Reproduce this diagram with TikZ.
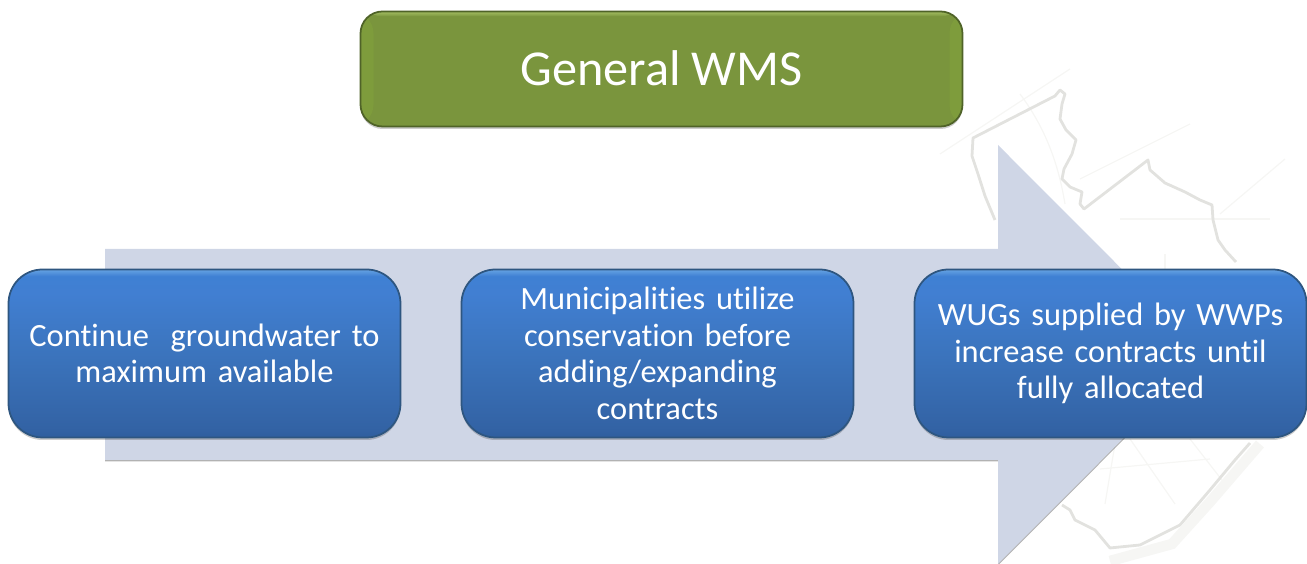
\documentclass[tikz,border=0pt]{standalone}
\usepackage{fontspec}
\setmainfont{Carlito}[Ligatures=NoCommon]
\usetikzlibrary{shadows}
\definecolor{arrowfill}{HTML}{CFD6E6}
\definecolor{mapline}{HTML}{E2E2DF}
\definecolor{mapfaint}{HTML}{F6F6F4}
\definecolor{blueedge}{HTML}{2E5680}
\definecolor{greenedge}{HTML}{4F6328}
\definecolor{greenmain}{HTML}{7A953D}
\definecolor{greenside}{HTML}{7E9C3C}
\definecolor{greentop}{HTML}{A3BD62}
\definecolor{bluea}{HTML}{2F5E9E}
\definecolor{blueb}{HTML}{3363A5}
\definecolor{bluec}{HTML}{3B74BD}
\definecolor{blued}{HTML}{417FD2}
\definecolor{bluee}{HTML}{3F80D3}
\definecolor{bluef}{HTML}{66A3E3}
\pgfdeclareverticalshading{bluebevel}{100bp}{
  color(0bp)=(bluea);
  color(25bp)=(bluea);
  color(28bp)=(blueb);
  color(50bp)=(bluec);
  color(68bp)=(blued);
  color(73bp)=(bluee);
  color(75bp)=(bluef);
  color(100bp)=(bluef)}
\tikzset{
  softshadow/.style={drop shadow={shadow xshift=0cm,shadow yshift=-0.025cm,
    fill=black,opacity=0.2}},
  bluebox/.style={draw=blueedge,line width=0.5pt,rounded corners=0.34cm,
    shading=bluebevel,softshadow,text=white,align=center,
    minimum width=3.92cm,minimum height=1.68cm,text width=3.8cm,
    inner sep=0pt,font=\fontsize{9.23}{10.4}\selectfont},
  greenbox/.style={draw=greenedge,line width=0.5pt,rounded corners=0.22cm,
    fill=greenmain,softshadow,text=white,align=center,
    minimum width=6.02cm,minimum height=1.15cm,
    inner sep=0pt,font=\fontsize{14.3}{16}\selectfont,
    path picture={
      \fill[greenside] (path picture bounding box.south west)
        rectangle ++(0.13,1.15);
      \fill[greenside] (path picture bounding box.south east)
        rectangle ++(-0.13,1.15);
      \shade[top color=greentop,bottom color=greenmain]
        (path picture bounding box.north west) rectangle ++(6.02,-0.05);}},
  mapborder/.style={draw=mapline,line width=0.8pt,line join=round},
  mapdetail/.style={draw=mapfaint,line width=0.35pt}
}
\begin{document}
\begin{tikzpicture}
  \useasboundingbox (0, 0) rectangle (13.07, 5.64);
  \draw[mapdetail] (9.40, 4.10) -- (10.70, 4.95);
  \draw[mapdetail] (10.20, 4.70) .. controls (10.50, 4.30) and (10.60, 3.90) .. (10.65, 3.60);
  \draw[mapdetail] (10.80, 3.85) -- (11.90, 4.40);
  \draw[mapdetail] (11.20, 3.45) -- (12.70, 3.45);
  \draw[mapdetail] (11.65, 3.10) -- (11.65, 2.90);
  \draw[mapdetail] (12.20, 3.50) -- (12.85, 4.05);
  \draw[mapdetail] (11.15, 1.20) -- (11.05, 0.60);
  \draw[mapdetail] (11.30, 1.25) -- (11.75, 0.60);
  \draw[mapdetail] (11.00, 0.95) -- (12.10, 1.05);
  \draw[mapdetail] (11.90, 1.25) -- (12.25, 0.80);
  \draw[mapborder]
    (9.95, 3.44) -- (9.85, 3.68) -- (9.78, 3.90) -- (9.72, 4.08) -- (9.73, 4.26)
    -- (10.55, 4.68) -- (10.60, 4.74) -- (10.65, 4.70) -- (10.62, 4.60)
    -- (10.60, 4.45) -- (10.66, 4.34) -- (10.76, 4.24) -- (10.72, 4.10)
    -- (10.64, 3.95) -- (10.62, 3.85) -- (10.70, 3.77) -- (10.82, 3.72)
    -- (10.80, 3.60) -- (10.84, 3.55) -- (11.48, 4.04) -- (11.50, 3.94)
    -- (11.65, 3.81) -- (11.85, 3.72) -- (12.00, 3.64) -- (12.12, 3.59)
    -- (12.13, 3.44) -- (12.18, 3.24) -- (12.25, 3.14) -- (12.36, 3.02);
  \draw[mapborder]
    (12.50, 1.21) -- (12.35, 1.04) -- (12.10, 0.74) -- (11.80, 0.39)
    -- (11.40, 0.19) -- (11.10, 0.16) -- (10.95, 0.34) -- (10.75, 0.44)
    -- (10.70, 0.54) -- (10.62, 0.59);
  \draw[mapfaint,line width=3pt] (12.60, 1.20) -- (12.10, 0.62) -- (11.72, 0.20) -- (11.10, 0.03);
  \fill[arrowfill,drop shadow={shadow xshift=0cm,shadow yshift=-0.015cm,fill=black,opacity=0.3}]
    (1.05, 3.15) -- (9.98, 3.15) -- (9.98, 4.19) -- (12.07, 2.095)
    -- (9.98, 0) -- (9.98, 1.04) -- (1.05, 1.04) -- cycle;
  \node[greenbox] (general) at (6.615, 4.95) {\raisebox{0.02cm}{General WMS}};
  \node[bluebox] (groundwater) at (2.045, 2.105)
    {Continue\ \ groundwater to\\maximum available};
  \node[bluebox] (conservation) at (6.575, 2.105)
    {Municipalities utilize\\conservation before\\adding/expanding\\contracts};
  \node[bluebox] (contracts) at (11.105, 2.105)
    {WUGs supplied by WWPs\\increase contracts until\\fully allocated};
\end{tikzpicture}
\end{document}
